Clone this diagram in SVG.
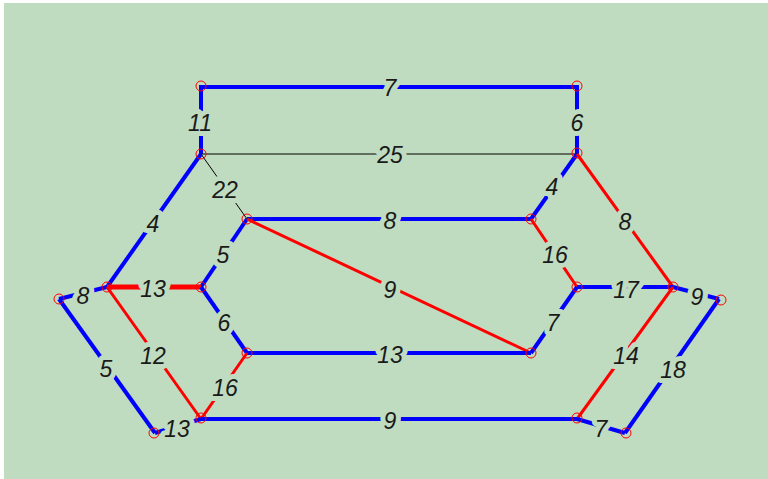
<svg xmlns="http://www.w3.org/2000/svg" width="768" height="479" viewBox="0 0 768 479">
<style>
.b{stroke:#0000FF;stroke-width:4;fill:none;stroke-linecap:butt}
.r{stroke:#FF0000;stroke-width:3;fill:none}
.rt{stroke:#FF0000;stroke-width:5;fill:none}
.k{stroke:#000000;stroke-width:1;fill:none}
.n{stroke:#FF0000;stroke-width:1;fill:none}
.t{font-family:"Liberation Sans",Arial,sans-serif;font-style:italic;font-size:23px;fill:#1a1a1a;text-anchor:middle;dominant-baseline:central;stroke:#C0DCC0;stroke-width:10;paint-order:stroke;stroke-linejoin:round}
</style>
<rect x="0" y="0" width="768" height="479" fill="#FFFFFF"/>
<rect x="4" y="3" width="764" height="476" fill="#C0DCC0"/>
<g id="connectors">
<line class="b" x1="201" y1="87" x2="577" y2="87"/>
<line class="b" x1="201" y1="85" x2="201" y2="154"/>
<line class="b" x1="577" y1="85" x2="577" y2="154"/>
<line class="k" x1="201" y1="154" x2="577" y2="154"/>
<line class="k" x1="201" y1="154" x2="247" y2="219"/>
<line class="b" x1="201" y1="154" x2="107" y2="287"/>
<line class="b" x1="577" y1="154" x2="531" y2="219"/>
<line class="r" x1="577" y1="154" x2="673" y2="287"/>
<line class="b" x1="247" y1="219" x2="531" y2="219"/>
<line class="b" x1="247" y1="219" x2="201" y2="287"/>
<line class="r" x1="247" y1="219" x2="531" y2="353"/>
<line class="r" x1="531" y1="219" x2="577" y2="287"/>
<line class="rt" x1="107" y1="287" x2="201" y2="287"/>
<line class="b" x1="107" y1="287" x2="59" y2="299"/>
<line class="r" x1="107" y1="287" x2="201" y2="419"/>
<line class="b" x1="201" y1="287" x2="247" y2="353"/>
<line class="b" x1="577" y1="287" x2="673" y2="287"/>
<line class="b" x1="577" y1="287" x2="531" y2="353"/>
<line class="b" x1="673" y1="287" x2="719" y2="299"/>
<line class="r" x1="673" y1="287" x2="577" y2="419"/>
<line class="b" x1="719" y1="299" x2="625" y2="433"/>
<line class="b" x1="247" y1="353" x2="531" y2="353"/>
<line class="r" x1="247" y1="353" x2="201" y2="419"/>
<line class="b" x1="201" y1="419" x2="577" y2="419"/>
<line class="b" x1="201" y1="419" x2="155" y2="433"/>
<line class="b" x1="577" y1="419" x2="625" y2="433"/>
<line class="b" x1="59" y1="299" x2="155" y2="433"/>
</g>
<g id="labels">
<text class="t" x="390" y="88">7</text>
<text class="t" x="200" y="123">11</text>
<text class="t" x="577" y="123">6</text>
<text class="t" x="390" y="155">25</text>
<text class="t" x="225" y="190">22</text>
<text class="t" x="153" y="224">4</text>
<text class="t" x="390" y="221">8</text>
<text class="t" x="552" y="187">4</text>
<text class="t" x="625" y="222">8</text>
<text class="t" x="223" y="255">5</text>
<text class="t" x="555" y="255">16</text>
<text class="t" x="390" y="290">9</text>
<text class="t" x="153" y="289">13</text>
<text class="t" x="83" y="296">8</text>
<text class="t" x="626" y="290">17</text>
<text class="t" x="697" y="297">9</text>
<text class="t" x="224" y="323">6</text>
<text class="t" x="553" y="323">7</text>
<text class="t" x="153" y="356">12</text>
<text class="t" x="390" y="355">13</text>
<text class="t" x="626" y="356">14</text>
<text class="t" x="106" y="369">5</text>
<text class="t" x="673" y="370">18</text>
<text class="t" x="225" y="388">16</text>
<text class="t" x="390" y="421">9</text>
<text class="t" x="177" y="429">13</text>
<text class="t" x="601" y="429">7</text>
</g>
<g id="nodes">
<g id="nA"><circle class="n" cx="201" cy="86" r="5"/></g>
<g id="nB"><circle class="n" cx="577" cy="86" r="5"/></g>
<g id="nC"><circle class="n" cx="201" cy="154" r="5"/></g>
<g id="nD"><circle class="n" cx="577" cy="153" r="5"/></g>
<g id="nE"><circle class="n" cx="247" cy="219" r="5"/></g>
<g id="nF"><circle class="n" cx="531" cy="219" r="5"/></g>
<g id="nG"><circle class="n" cx="107" cy="287" r="5"/></g>
<g id="nH"><circle class="n" cx="201" cy="287" r="5"/></g>
<g id="nI"><circle class="n" cx="59" cy="299" r="5"/></g>
<g id="nJ"><circle class="n" cx="577" cy="287" r="5"/></g>
<g id="nK"><circle class="n" cx="673" cy="287" r="5"/></g>
<g id="nL"><circle class="n" cx="721" cy="300" r="5"/></g>
<g id="nM"><circle class="n" cx="247" cy="353" r="5"/></g>
<g id="nN"><circle class="n" cx="531" cy="353" r="5"/></g>
<g id="nO"><circle class="n" cx="201" cy="418" r="5"/></g>
<g id="nP"><circle class="n" cx="577" cy="418" r="5"/></g>
<g id="nQ"><circle class="n" cx="154" cy="433" r="5"/></g>
<g id="nR"><circle class="n" cx="626" cy="433" r="5"/></g>
</g>
</svg>
